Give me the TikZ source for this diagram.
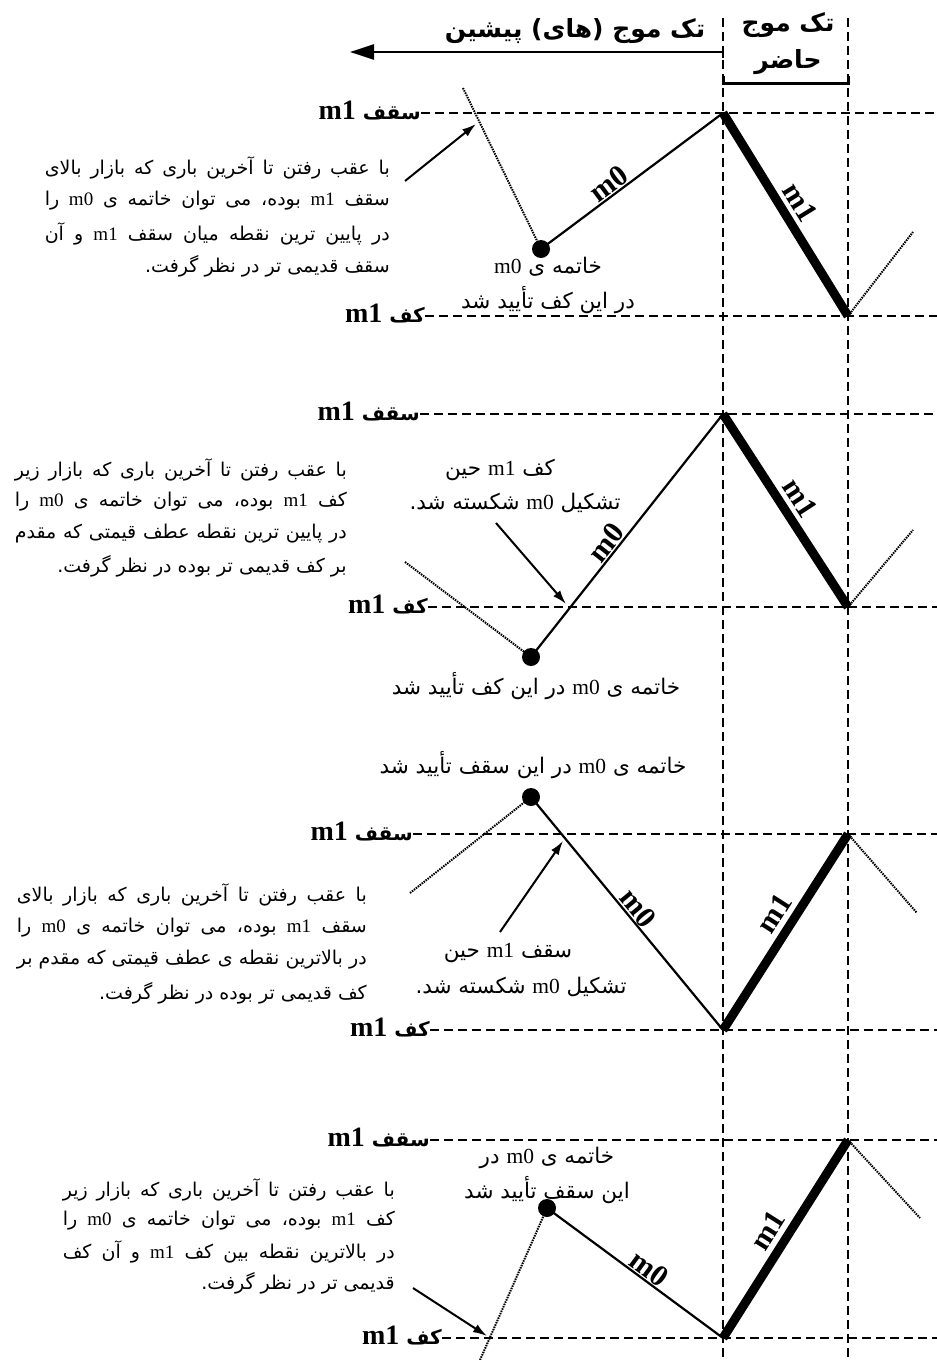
\documentclass[tikz,border=0pt]{standalone}
\usepackage{fontspec}
\setmainfont{Liberation Serif}
\newfontfamily\arfont[Script=Arabic]{DejaVu Sans}
\TeXXeTstate=1
\usetikzlibrary{arrows.meta}
\newcommand\lt[1]{\beginL{\rmfamily #1}\endL}
\newcommand\jl[2]{\hbox to #1pt{#2}}
\newcommand\labtext[1]{{\fontsize{28}{30}\selectfont m1}\hspace{7pt}{\fontsize{20}{24}\selectfont\arfont\beginR #1\endR}}
\begin{document}
\begin{tikzpicture}[x=1pt,y=-1pt,
  gridline/.style={line width=2pt, dash pattern=on 9pt off 5pt},
  dotline/.style={line width=2pt, dash pattern=on 1.5pt off 1pt},
  mzero/.style={line width=2.2pt},
  mone/.style={line width=9pt},
  ptr/.style={line width=2pt, -{Latex[length=14pt,width=9pt]}},
  ptext/.style={inner sep=0pt, font=\fontsize{19}{22}\selectfont\arfont},
  ctext/.style={inner sep=0pt, font=\fontsize{21.5}{24}\selectfont\arfont},
  lab/.style={inner sep=0pt, font=\bfseries},
  hdr/.style={inner sep=0pt, font=\fontsize{25}{28}\selectfont\bfseries\arfont},
  wlab/.style={font=\fontsize{30}{32}\selectfont\bfseries, sloped, inner sep=1pt},
  enddot/.style={circle, fill=black, minimum size=18pt, inner sep=0pt}
]
\fill[white] (0,0) rectangle (937,1360);
\useasboundingbox (0,0) rectangle (937,1360);

% vertical grid
\coordinate (vt1) at (723,18); \coordinate (vb1) at (723,1360);
\coordinate (vt2) at (848,18); \coordinate (vb2) at (848,1360);
\draw[gridline] (vt1) -- (vb1);
\draw[gridline] (vt2) -- (vb2);

% header
\coordinate (ha) at (723,52); \coordinate (hb) at (350,52);
\coordinate (hc) at (723,46); \coordinate (hd) at (723,58);
\draw[line width=2.5pt, -{Triangle[length=24pt,width=15pt]}] (ha) -- (hb);
\draw[line width=1.5pt] (hc) -- (hd);
\coordinate (b1) at (723,76); \coordinate (b2) at (723,83);
\coordinate (b3) at (848,83); \coordinate (b4) at (848,76);
\draw[line width=3pt] (b1) -- (b2) -- (b3) -- (b4);
\node[hdr] (h1) at (575,31) {\beginR تک موج (های) پیشین\endR};
\node[hdr] (h2) at (788,25) {\beginR تک موج\endR};
\node[hdr] (h3) at (788,62) {\beginR حاضر\endR};

% ================= panel 1
\coordinate (r1a) at (937,113); \coordinate (r1b) at (937,316);
\node[lab, anchor=base east] (s1) at (421,119) {\labtext{سقف}};
\node[lab, anchor=base east] (k1) at (425,322) {\labtext{کف}};
\draw[gridline] (s1.east |- r1a) -- (r1a);
\draw[gridline] (k1.east |- r1b) -- (r1b);
\coordinate (p1t) at (723,113); \coordinate (p1b) at (848,316);
\coordinate (p1s) at (463,88); \coordinate (p1e) at (913,232);
\node[enddot] (d1) at (541,249) {};
\draw[dotline] (p1s) -- (d1.center);
\draw[dotline] (p1b) -- (p1e);
\draw[mzero] (d1.center) -- node[wlab, above, pos=0.41] (m01) {m0} (p1t);
\draw[mone] (p1t) -- node[wlab, above=4pt, pos=0.49] (m11) {m1} (p1b);
\coordinate (a1s) at (405,181); \coordinate (a1e) at (476,124);
\draw[ptr] (a1s) -- (a1e);
\node[ctext] (c1a) at (548,267) {\beginR خاتمه ی \lt{m0}\endR};
\node[ctext] (c1b) at (548,300) {\beginR در این کف تأیید شد\endR};
\node[ptext, anchor=east] (t1a) at (390,168) {\jl{345}{\beginR با عقب رفتن تا آخرین باری که بازار بالای\endR}};
\node[ptext, anchor=east] (t1b) at (390,201) {\jl{345}{\beginR سقف \lt{m1} بوده، می توان خاتمه ی \lt{m0} را\endR}};
\node[ptext, anchor=east] (t1c) at (390,234) {\jl{345}{\beginR در پایین ترین نقطه میان سقف \lt{m1} و آن\endR}};
\node[ptext, anchor=east] (t1d) at (390,266) {\beginR سقف قدیمی تر در نظر گرفت.\endR};

% ================= panel 2
\coordinate (r2a) at (937,414); \coordinate (r2b) at (937,607);
\node[lab, anchor=base east] (s2) at (420,420) {\labtext{سقف}};
\node[lab, anchor=base east] (k2) at (428,613) {\labtext{کف}};
\draw[gridline] (s2.east |- r2a) -- (r2a);
\draw[gridline] (k2.east |- r2b) -- (r2b);
\coordinate (p2t) at (723,414); \coordinate (p2b) at (848,607);
\coordinate (p2s) at (405,562); \coordinate (p2e) at (913,530);
\node[enddot] (d2) at (531,657) {};
\draw[dotline] (p2s) -- (d2.center);
\draw[dotline] (p2b) -- (p2e);
\draw[mzero] (d2.center) -- node[wlab, above, pos=0.44] (m02) {m0} (p2t);
\draw[mone] (p2t) -- node[wlab, above=4pt, pos=0.49] (m12) {m1} (p2b);
\coordinate (a2s) at (496,523); \coordinate (a2e) at (566,604);
\draw[ptr] (a2s) -- (a2e);
\node[ctext] (c2a) at (500,470) {\beginR کف \lt{m1} حین\endR};
\node[ctext] (c2b) at (515,503) {\beginR تشکیل \lt{m0} شکسته شد.\endR};
\node[ctext] (c2c) at (536,686) {\beginR خاتمه ی \lt{m0} در این کف تأیید شد\endR};
\node[ptext, anchor=east] (t2a) at (347,470) {\jl{332}{\beginR با عقب رفتن تا آخرین باری که بازار زیر\endR}};
\node[ptext, anchor=east] (t2b) at (347,502) {\jl{332}{\beginR کف \lt{m1} بوده، می توان خاتمه ی \lt{m0} را\endR}};
\node[ptext, anchor=east] (t2c) at (347,534) {\jl{332}{\beginR در پایین ترین نقطه عطف قیمتی که مقدم\endR}};
\node[ptext, anchor=east] (t2d) at (347,566) {\beginR بر کف قدیمی تر بوده در نظر گرفت.\endR};

% ================= panel 3
\coordinate (r3a) at (937,834); \coordinate (r3b) at (937,1030);
\node[lab, anchor=base east] (s3) at (413,840) {\labtext{سقف}};
\node[lab, anchor=base east] (k3) at (430,1036) {\labtext{کف}};
\draw[gridline] (s3.east |- r3a) -- (r3a);
\draw[gridline] (k3.east |- r3b) -- (r3b);
\coordinate (p3t) at (848,834); \coordinate (p3b) at (723,1030);
\coordinate (p3s) at (410,893); \coordinate (p3e) at (917,913);
\node[enddot] (d3) at (531,797) {};
\draw[dotline] (p3s) -- (d3.center);
\draw[dotline] (p3t) -- (p3e);
\draw[mzero] (d3.center) -- node[wlab, above, pos=0.51] (m03) {m0} (p3b);
\draw[mone] (p3b) -- node[wlab, above=4pt, pos=0.54] (m13) {m1} (p3t);
\coordinate (a3s) at (500,932); \coordinate (a3e) at (563,841);
\draw[ptr] (a3s) -- (a3e);
\node[ctext] (c3c) at (533,765) {\beginR خاتمه ی \lt{m0} در این سقف تأیید شد\endR};
\node[ctext] (c3a) at (508,953) {\beginR سقف \lt{m1} حین\endR};
\node[ctext] (c3b) at (521,987) {\beginR تشکیل \lt{m0} شکسته شد.\endR};
\node[ptext, anchor=east] (t3a) at (367,895) {\jl{350}{\beginR با عقب رفتن تا آخرین باری که بازار بالای\endR}};
\node[ptext, anchor=east] (t3b) at (367,928) {\jl{350}{\beginR سقف \lt{m1} بوده، می توان خاتمه ی \lt{m0} را\endR}};
\node[ptext, anchor=east] (t3c) at (367,960) {\jl{350}{\beginR در بالاترین نقطه ی عطف قیمتی که مقدم بر\endR}};
\node[ptext, anchor=east] (t3d) at (367,993) {\beginR کف قدیمی تر بوده در نظر گرفت.\endR};

% ================= panel 4
\coordinate (r4a) at (937,1140); \coordinate (r4b) at (937,1338);
\node[lab, anchor=base east] (s4) at (430,1146) {\labtext{سقف}};
\node[lab, anchor=base east] (k4) at (442,1344) {\labtext{کف}};
\draw[gridline] (s4.east |- r4a) -- (r4a);
\draw[gridline] (k4.east |- r4b) -- (r4b);
\coordinate (p4t) at (848,1140); \coordinate (p4b) at (723,1338);
\coordinate (p4s) at (480,1360); \coordinate (p4e) at (920,1218);
\node[enddot] (d4) at (547,1208) {};
\draw[dotline] (p4s) -- (d4.center);
\draw[dotline] (p4t) -- (p4e);
\draw[mzero] (d4.center) -- node[wlab, above, pos=0.54] (m04) {m0} (p4b);
\draw[mone] (p4b) -- node[wlab, above=4pt, pos=0.49] (m14) {m1} (p4t);
\coordinate (a4s) at (413,1288); \coordinate (a4e) at (487,1336);
\draw[ptr] (a4s) -- (a4e);
\node[ctext] (c4a) at (547,1158) {\beginR خاتمه ی \lt{m0} در\endR};
\node[ctext] (c4b) at (547,1190) {\beginR این سقف تأیید شد\endR};
\node[ptext, anchor=east] (t4a) at (395,1190) {\jl{332}{\beginR با عقب رفتن تا آخرین باری که بازار زیر\endR}};
\node[ptext, anchor=east] (t4b) at (395,1221) {\jl{332}{\beginR کف \lt{m1} بوده، می توان خاتمه ی \lt{m0} را\endR}};
\node[ptext, anchor=east] (t4c) at (395,1252) {\jl{332}{\beginR در بالاترین نقطه بین کف \lt{m1} و آن کف\endR}};
\node[ptext, anchor=east] (t4d) at (395,1283) {\beginR قدیمی تر در نظر گرفت.\endR};
\end{tikzpicture}
\end{document}
